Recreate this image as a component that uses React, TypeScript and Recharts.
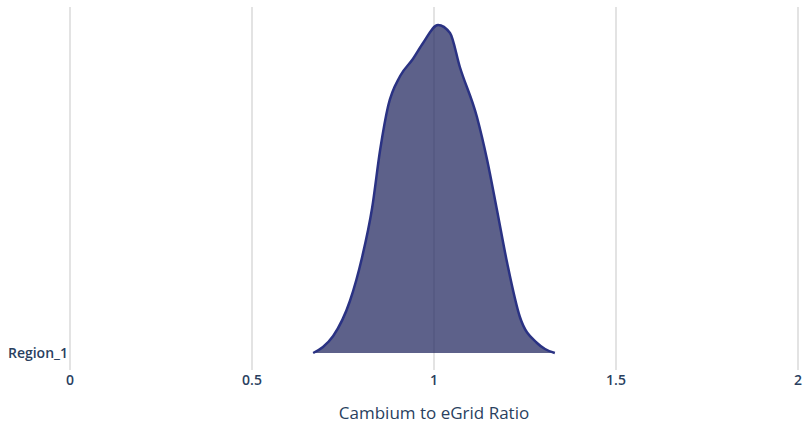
import { ComposedChart, Area, XAxis, YAxis, CartesianGrid, Label } from 'recharts';

const ratio = [0.668, 0.695, 0.723, 0.769, 0.802, 0.83, 0.852, 0.874, 0.907, 0.942, 0.97, 1.011, 1.044, 1.071, 1.118, 1.146, 1.173, 1.201, 1.236, 1.283, 1.305, 1.332];
const density = [0, 0.06, 0.17, 0.52, 0.95, 1.45, 2.03, 2.47, 2.77, 2.94, 3.1, 3.28, 3.2, 2.86, 2.36, 1.93, 1.43, 0.9, 0.36, 0.1, 0.04, 0];
const xTicks = [0, 0.5, 1, 1.5, 2];
const regionLabel = 'Region_1';

const data = ratio.map((x, i) => ({ x, density: density[i] }));

const FONT = '"Open Sans", sans-serif';
const TEXT = '#2a3f5f';

export default function App() {
  return (
    <div style={{ position: 'absolute', left: 0, top: 0, width: 806, height: 424, background: '#fff' }}>
      <ComposedChart width={806} height={424} data={data} margin={{ top: 7, right: 8, left: 0, bottom: 0 }}>
        <CartesianGrid horizontal={false} stroke="#e3e3e3" strokeWidth={2} />
        <XAxis
          dataKey="x"
          type="number"
          domain={[0, 2]}
          ticks={xTicks}
          axisLine={false}
          tickLine={false}
          tickSize={0}
          tickMargin={5}
          height={54}
          tick={{ fill: TEXT, fontSize: 14, fontWeight: 600, fontFamily: FONT }}
        >
          <Label value="Cambium to eGrid Ratio" position="insideBottom" offset={5} fill={TEXT} fontSize={17} fontWeight={500} fontFamily={FONT} />
        </XAxis>
        <YAxis
          type="number"
          domain={[-0.17, 3.46]}
          ticks={[0]}
          tickFormatter={() => regionLabel}
          axisLine={false}
          tickLine={false}
          tickSize={0}
          tickMargin={2}
          width={70}
          tick={{ fill: TEXT, fontSize: 14, fontWeight: 600, fontFamily: FONT }}
        />
        <Area
          dataKey="density"
          type="monotone"
          fill="#272c63"
          fillOpacity={0.75}
          stroke="#2a3283"
          strokeWidth={2.5}
          isAnimationActive={false}
        />
      </ComposedChart>
    </div>
  );
}
